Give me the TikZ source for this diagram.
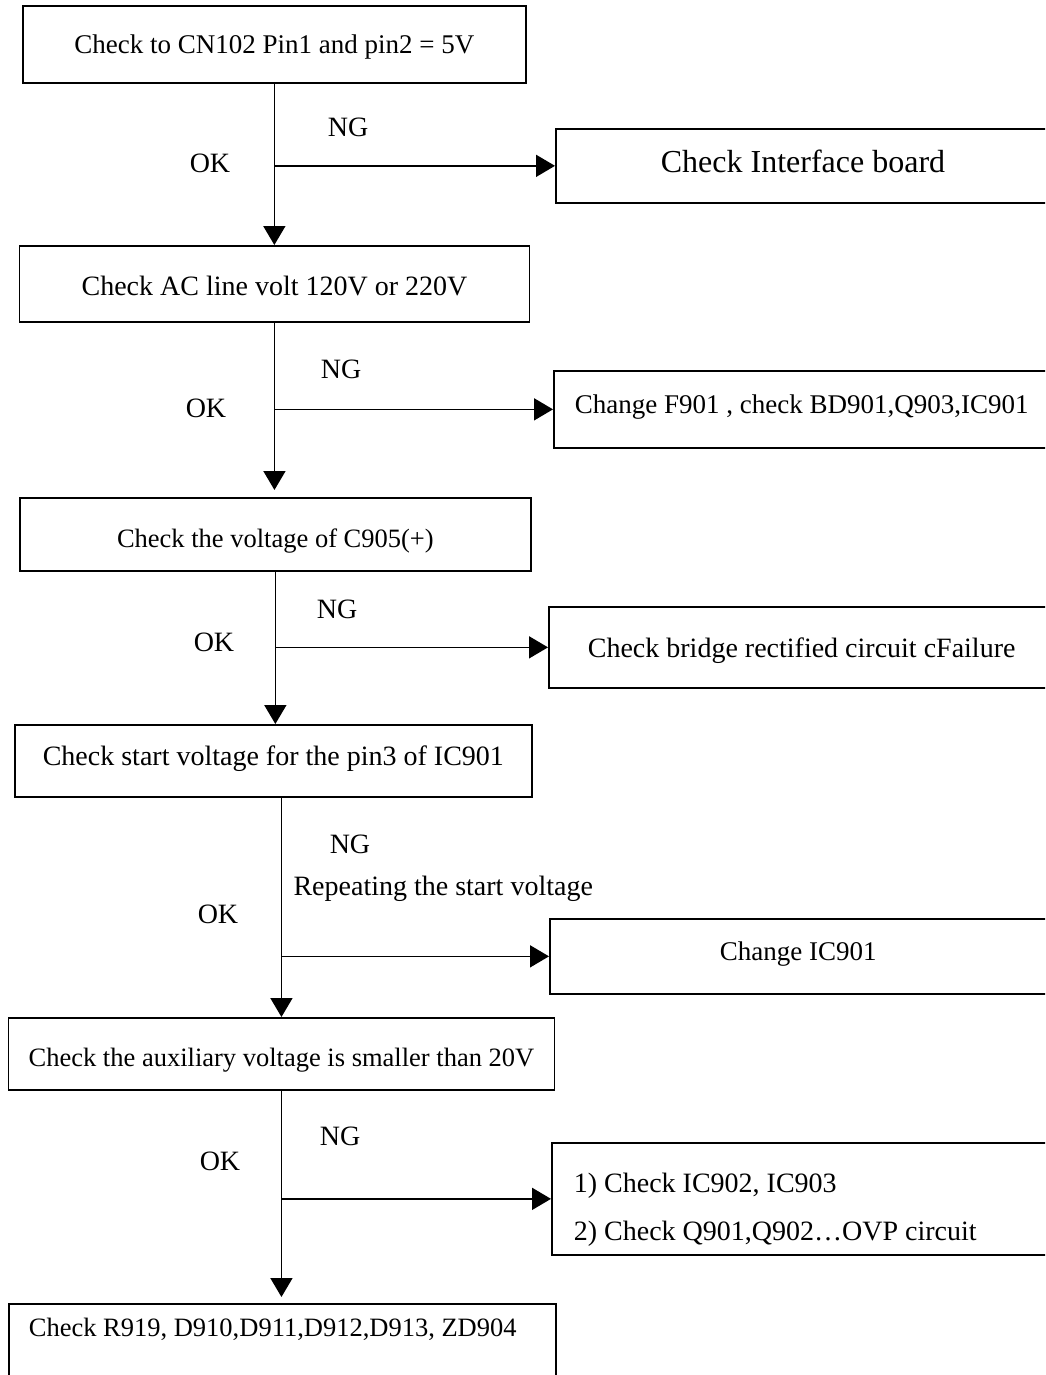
\documentclass[tikz,border=0pt]{standalone}
\usepackage{fontspec}
\setmainfont{Liberation Serif}
\usetikzlibrary{arrows.meta}

\begin{document}
\begin{tikzpicture}[x=1pt, y=-1pt,
    chk/.style={rectangle, draw, line width=1.7pt, inner sep=0pt, anchor=north west, text depth=0pt, font=\fontsize{27}{32}\selectfont},
    fix/.style={chk, minimum width=520pt, align=flush left},
    arr/.style={line width=1.7pt, -{Triangle[length=19pt, width=22pt]}},
    lbl/.style={anchor=base, font=\fontsize{28}{32}\selectfont}
]
\clip (0,0) rectangle (1045,1375);

% Checks down the left
\node[chk, minimum width=503pt, minimum height=77pt, text height=19pt] (cn102) at (22,5) {Check to CN102 Pin1 and pin2 = 5V};
\node[chk, minimum width=510pt, minimum height=76pt, text height=24pt, font=\fontsize{28}{32}\selectfont] (acline) at (18.6,245) {Check AC line volt 120V or 220V};
\node[chk, minimum width=511pt, minimum height=73pt, text height=27pt, font=\fontsize{26.5}{32}\selectfont] (c905) at (19,497) {Check the voltage of C905(+)};
\node[chk, minimum width=517pt, minimum height=72pt, text height=10pt, font=\fontsize{28}{32}\selectfont] (start) at (14,724) {Check start voltage for the pin3 of IC901};
\node[chk, minimum width=546pt, minimum height=72pt, text height=26pt, font=\fontsize{26.5}{32}\selectfont] (aux) at (7.6,1017) {Check the auxiliary voltage is smaller than 20V};
\node[chk, minimum width=547pt, minimum height=97pt, align=flush left, inner xsep=20pt, text width=507pt, text height=0pt, text depth=31pt, font=\fontsize{26.5}{32}\selectfont] (r919) at (8,1303) {Check R919, D910,D911,D912,D913, ZD904};

% Repairs on the right
\node[fix, minimum height=74pt, inner xsep=105pt, text width=310pt, text height=14pt, font=\fontsize{32}{36}\selectfont] (iface) at (555,128) {Check Interface board};
\node[fix, minimum height=77pt, inner xsep=21pt, text width=478pt, text height=9pt] (f901) at (553,370) {Change F901 , check BD901,Q903,IC901};
\node[fix, minimum height=81pt, inner xsep=39pt, text width=442pt, text height=21pt, font=\fontsize{28}{32}\selectfont] (bridge) at (548,606) {Check bridge rectified circuit cFailure};
\node[fix, minimum height=75pt, inner xsep=170pt, text width=180pt, text height=9pt] (ic901) at (549,918) {Change IC901};
\node[fix, minimum height=112pt, inner xsep=22pt, text width=476pt, text height=0pt, text depth=12pt, font=\fontsize{28}{48}\selectfont] (ovp) at (551,1142) {1) Check IC902, IC903\\2) Check Q901,Q902\ldots OVP circuit};

% OK path
\draw[arr] (cn102.south) -- (cn102.south |- acline.north);
\draw[arr, shorten >=7pt] (acline.south) -- (acline.south |- c905.north);
\draw[arr] (c905.south) -- (c905.south |- start.north);
\draw[arr] (aux.north |- start.south) -- (aux.north);
\draw[arr, shorten >=6pt] (aux.south) -- (aux.south |- r919.north);

% NG branches
\draw[arr] (cn102.south |- iface.west) -- (iface.west);
\draw[arr] (acline.south |- f901.west) -- (f901.west);
\draw[arr] (c905.south |- bridge.west) -- (bridge.west);
\draw[arr] (aux.north |- ic901.west) -- (ic901.west);
\draw[arr] (aux.south |- ovp.west) -- (ovp.west);

% Labels
\node[lbl] (ng1) at (348,137) {NG};
\node[lbl] (ok1) at (210,173) {OK};
\node[lbl] (ng2) at (341,378) {NG};
\node[lbl] (ok2) at (206,417) {OK};
\node[lbl] (ng3) at (337,618) {NG};
\node[lbl] (ok3) at (214,651) {OK};
\node[lbl] (ng4) at (350,853) {NG};
\node[lbl, anchor=base west] (repeat) at (290,895) {Repeating the start voltage};
\node[lbl] (ok4) at (218,923) {OK};
\node[lbl] (ng5) at (340,1145) {NG};
\node[lbl] (ok5) at (220,1170) {OK};
\end{tikzpicture}
\end{document}
